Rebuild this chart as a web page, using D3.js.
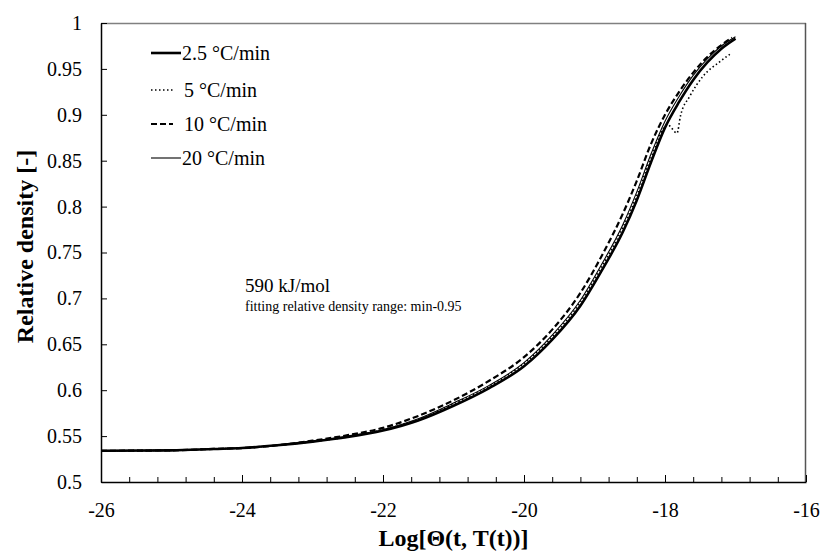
<!DOCTYPE html>
<html><head><meta charset="utf-8">
<script src="https://cdn.jsdelivr.net/npm/d3@7"></script>
<style>body{margin:0;background:#fff} svg text{font-family:"Liberation Serif","DejaVu Serif",serif !important;}</style>
</head><body><svg id="c" width="823" height="552"></svg>
<script>
// ---- data ----
const xTicks = [-26, -24, -22, -20, -18, -16];
const yTicks = [0.5, 0.55, 0.6, 0.65, 0.7, 0.75, 0.8, 0.85, 0.9, 0.95, 1];
const yTickLabels = ["0.5","0.55","0.6","0.65","0.7","0.75","0.8","0.85","0.9","0.95","1"];
const seriesNames = ["2.5 °C/min", "5 °C/min", "10 °C/min", "20 °C/min"];

const x25 = [-26, -25, -24.4, -24, -23.5, -23, -22.5, -22, -21.5, -21, -20.5, -20, -19.6, -19.2, -18.9, -18.6, -18.4, -18.2, -18.0, -17.8, -17.6, -17.4, -17.2, -17.0];
const y25 = [0.534, 0.5345, 0.536, 0.537, 0.540, 0.544, 0.549, 0.556, 0.567, 0.583, 0.602, 0.626, 0.655, 0.692, 0.730, 0.772, 0.807, 0.848, 0.886, 0.914, 0.938, 0.957, 0.972, 0.983];

const x5 = [-26, -25, -24.4, -24, -23.5, -23, -22.5, -22, -21.5, -21, -20.5, -20, -19.6, -19.2, -18.9, -18.6, -18.4, -18.2, -17.96, -17.83, -17.78, -17.65, -17.46, -17.22, -17.06];
const y5 = [0.534, 0.5345, 0.536, 0.537, 0.540, 0.544, 0.549, 0.557, 0.568, 0.585, 0.604, 0.629, 0.658, 0.696, 0.734, 0.777, 0.812, 0.853, 0.889, 0.880, 0.899, 0.920, 0.942, 0.958, 0.967];

const x10 = [-26, -25, -24.4, -24, -23.5, -23, -22.5, -22, -21.5, -21, -20.5, -20, -19.6, -19.2, -18.9, -18.6, -18.4, -18.2, -18.0, -17.8, -17.6, -17.4, -17.2, -17.05];
const y10 = [0.534, 0.5345, 0.536, 0.537, 0.540, 0.545, 0.551, 0.559, 0.572, 0.589, 0.610, 0.636, 0.666, 0.706, 0.746, 0.792, 0.828, 0.868, 0.900, 0.925, 0.946, 0.963, 0.976, 0.984];

const x20 = [-26, -25, -24.4, -24, -23.5, -23, -22.5, -22, -21.5, -21, -20.5, -20, -19.6, -19.2, -18.9, -18.6, -18.4, -18.2, -18.0, -17.8, -17.6, -17.4, -17.2, -17.0];
const y20 = [0.534, 0.5345, 0.536, 0.537, 0.540, 0.544, 0.550, 0.557, 0.569, 0.586, 0.605, 0.630, 0.660, 0.698, 0.737, 0.780, 0.816, 0.857, 0.893, 0.920, 0.943, 0.961, 0.975, 0.985];

// ---- layout ----
const L = 101, R = 806, T = 23, B = 482;
const svg = d3.select("#c");
const x = d3.scaleLinear().domain([-26, -16]).range([L, R]);
const y = d3.scaleLinear().domain([0.5, 1]).range([B, T]);
const font = "'Liberation Serif', 'DejaVu Serif', serif";

// frame top/right
svg.append("line").attr("x1", L).attr("x2", R).attr("y1", T + 0.5).attr("y2", T + 0.5).attr("stroke", "#808080").attr("stroke-width", 1.5);
svg.append("line").attr("x1", R - 0.5).attr("x2", R - 0.5).attr("y1", T).attr("y2", B).attr("stroke", "#555").attr("stroke-width", 1.5);

// x axis
const minor = d3.range(-26, -15.9, 0.4);
const xMinor = svg.append("g").attr("transform", `translate(0,${B})`)
  .call(d3.axisBottom(x).tickValues(minor).tickSize(-5).tickFormat(""));
xMinor.select(".domain").remove();
const xAx = svg.append("g").attr("transform", `translate(0,${B})`)
  .call(d3.axisBottom(x).tickValues(xTicks).tickSize(-7).tickPadding(21).tickSizeOuter(0).tickFormat(d => String(d)));
xAx.attr("font-family", null);
xAx.selectAll("text").style("font-family", font).attr("font-size", 20).attr("fill", "#000");
xAx.select(".domain").attr("stroke-width", 1.5);

// y axis
const yAx = svg.append("g").attr("transform", `translate(${L},0)`)
  .call(d3.axisLeft(y).tickValues(yTicks).tickSize(-6).tickPadding(19).tickSizeOuter(0).tickFormat((d, i) => yTickLabels[i]));
yAx.attr("font-family", null);
yAx.selectAll("text").style("font-family", font).attr("font-size", 20).attr("fill", "#000");
yAx.select(".domain").attr("stroke-width", 1.5);
svg.selectAll("g line").attr("stroke", "#000");

// axis titles
svg.append("text").attr("x", (L + R) / 2).attr("y", 546).attr("text-anchor", "middle")
  .style("font-family", font).attr("font-size", 24).attr("font-weight", "bold").text("Log[Θ(t, T(t))]");
svg.append("text").attr("transform", `translate(33,${(T + B) / 2 - 6}) rotate(-90)`).attr("text-anchor", "middle")
  .style("font-family", font).attr("font-size", 24).attr("font-weight", "bold").text("Relative density [-]");

// curves
const styles = [
  {xs: x25, ys: y25, w: 2.6, dash: null},
  {xs: x5, ys: y5, w: 1.6, dash: "1.5,2.5"},
  {xs: x10, ys: y10, w: 2.2, dash: "6,3"},
  {xs: x20, ys: y20, w: 1.1, dash: null}
];
const line = d3.line().x(d => x(d[0])).y(d => y(d[1])).curve(d3.curveMonotoneX);
styles.forEach(s => {
  svg.append("path").datum(s.xs.map((v, i) => [v, s.ys[i]]))
    .attr("d", line).attr("fill", "none").attr("stroke", "#000")
    .attr("stroke-width", s.w).attr("stroke-dasharray", s.dash);
});

// legend
const legY = [53, 90, 124, 158];
const legEnd = [181, 173, 173, 181];
seriesNames.forEach((n, i) => {
  const s = styles[i];
  svg.append("line").attr("x1", 151).attr("x2", legEnd[i]).attr("y1", legY[i]).attr("y2", legY[i])
    .attr("stroke", "#000").attr("stroke-width", s.w).attr("stroke-dasharray", s.dash);
  svg.append("text").attr("x", i === 0 || i === 3 ? 182 : 184).attr("y", legY[i] + 7)
    .style("font-family", font).attr("font-size", 20).text(n);
});

// annotations
svg.append("text").attr("x", 245).attr("y", 292).style("font-family", font).attr("font-size", 19).text("590 kJ/mol");
svg.append("text").attr("x", 245).attr("y", 311).style("font-family", font).attr("font-size", 14).text("fitting relative density range: min-0.95");
</script></body></html>
